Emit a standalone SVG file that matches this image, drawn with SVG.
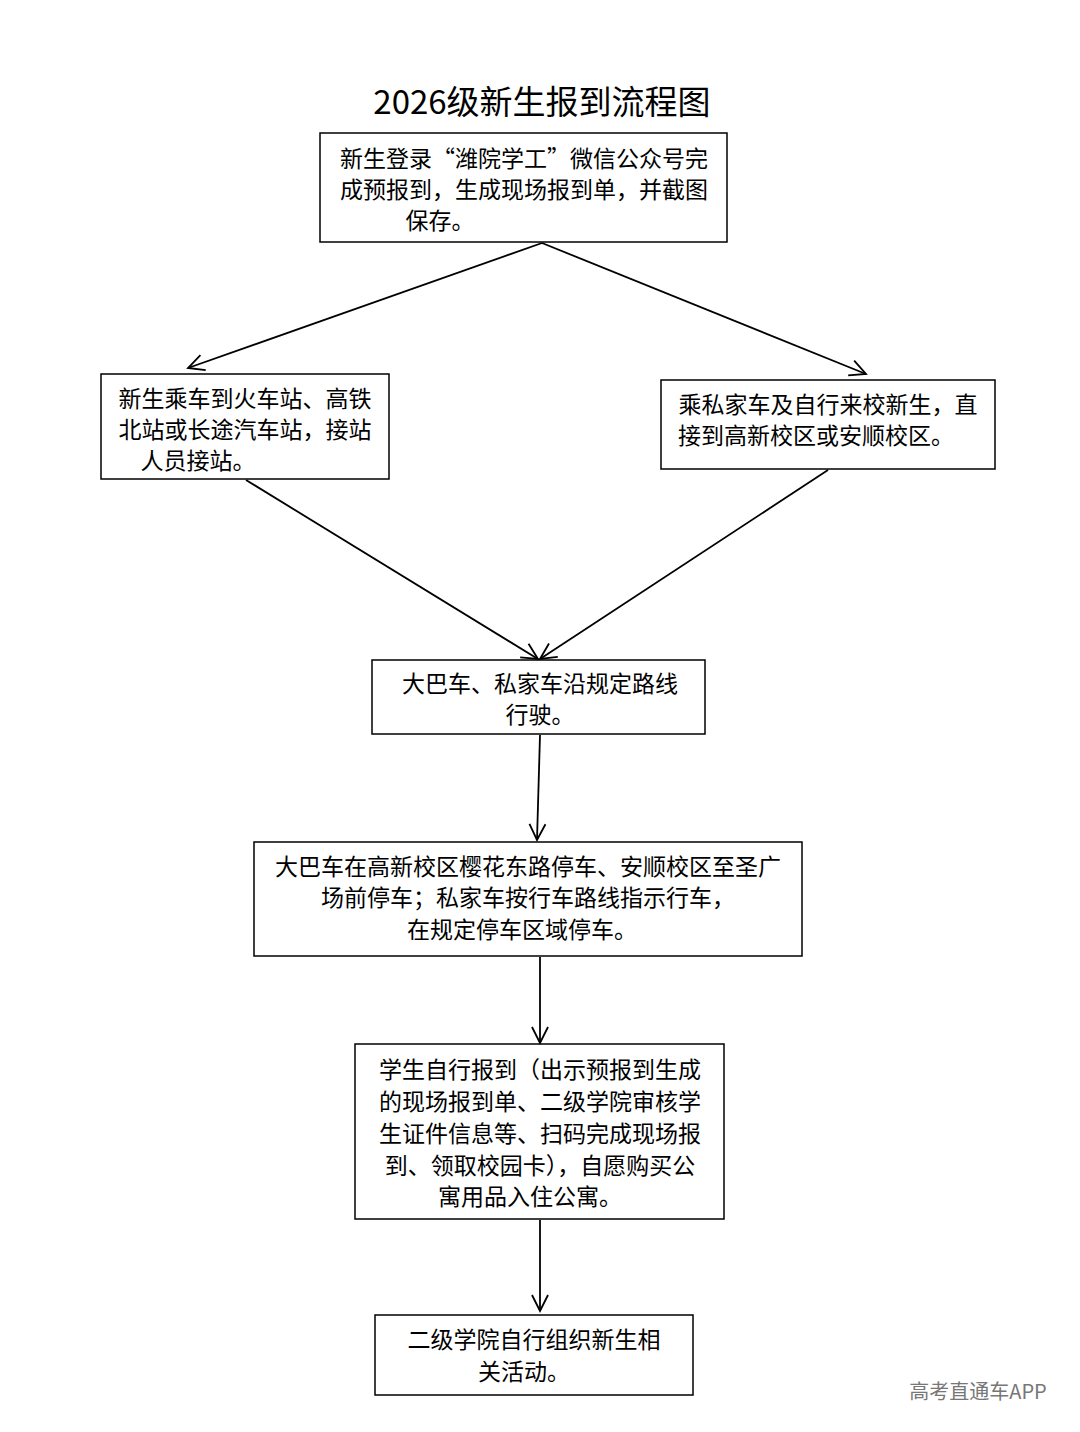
<svg xmlns="http://www.w3.org/2000/svg" width="1080" height="1432" viewBox="0 0 1080 1432">
<style>
.b{fill:#fff;stroke:#000;stroke-width:1.5}
.t{font-family:"Noto Sans CJK SC","Liberation Serif",serif;font-size:23px;fill:#000;text-anchor:middle}
.c line{stroke:#000;stroke-width:1.8;marker-end:url(#a)}
</style>
<defs><marker id="a" viewBox="0 0 20 20" refX="18" refY="10" markerWidth="20" markerHeight="20" markerUnits="userSpaceOnUse" orient="auto"><path d="M2,2 L18,10 L2,18" fill="none" stroke="#000" stroke-width="1.8"/></marker></defs>
<rect width="1080" height="1432" fill="#fff"/>
<text x="542" y="114" class="t" style="font-size:33px">2026级新生报到流程图</text>
<g id="n1"><rect class="b" x="320" y="133" width="407" height="109"/><text class="t" x="524" y="167">新生登录“潍院学工”微信公众号完</text><text class="t" x="524" y="198">成预报到，生成现场报到单，并截图</text><text class="t" x="440" y="229">保存。</text></g>
<g id="n2"><rect class="b" x="101" y="374" width="288" height="105"/><text class="t" x="245" y="407">新生乘车到火车站、高铁</text><text class="t" x="245" y="438">北站或长途汽车站，接站</text><text class="t" x="198" y="469">人员接站。</text></g>
<g id="n3"><rect class="b" x="661" y="380" width="334" height="89"/><text class="t" x="828" y="413">乘私家车及自行来校新生，直</text><text class="t" x="816" y="444">接到高新校区或安顺校区。</text></g>
<g id="n4"><rect class="b" x="372" y="660" width="333" height="74"/><text class="t" x="540" y="692">大巴车、私家车沿规定路线</text><text class="t" x="540" y="723">行驶。</text></g>
<g id="n5"><rect class="b" x="254" y="842" width="548" height="114"/><text class="t" x="528" y="875">大巴车在高新校区樱花东路停车、安顺校区至圣广</text><text class="t" x="528" y="906">场前停车；私家车按行车路线指示行车，</text><text class="t" x="522" y="938">在规定停车区域停车。</text></g>
<g id="n6"><rect class="b" x="355" y="1044" width="369" height="175"/><text class="t" x="540" y="1078">学生自行报到（出示预报到生成</text><text class="t" x="540" y="1110">的现场报到单、二级学院审核学</text><text class="t" x="540" y="1142">生证件信息等、扫码完成现场报</text><text class="t" x="540" y="1174">到、领取校园卡），自愿购买公</text><text class="t" x="530" y="1205">寓用品入住公寓。</text></g>
<g id="n7"><rect class="b" x="375" y="1315" width="318" height="80"/><text class="t" x="534" y="1348">二级学院自行组织新生相</text><text class="t" x="524" y="1380">关活动。</text></g>
<g class="c">
<line x1="542" y1="243" x2="188" y2="368"/>
<line x1="542" y1="243" x2="866" y2="374"/>
<line x1="246" y1="480" x2="538" y2="659"/>
<line x1="828" y1="470" x2="540" y2="659"/>
<line x1="540" y1="735" x2="537" y2="840"/>
<line x1="540" y1="957" x2="540" y2="1043"/>
<line x1="540" y1="1220" x2="540" y2="1311"/>
</g>
<text x="978" y="1399" style="font-family:'Noto Sans CJK SC',sans-serif;font-size:20px;fill:#777;text-anchor:middle">高考直通车APP</text>
</svg>
